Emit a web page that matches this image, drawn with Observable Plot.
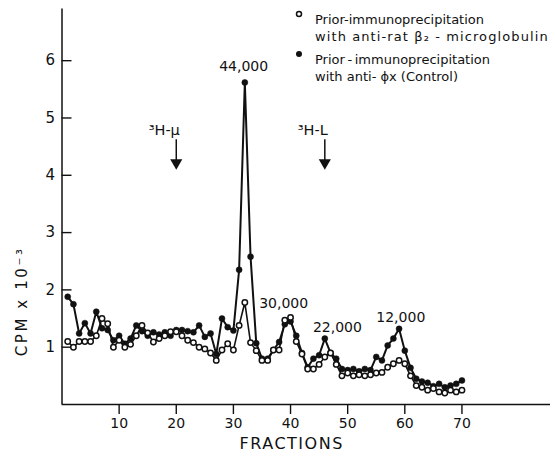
<!DOCTYPE html>
<html><head><meta charset="utf-8">
<script src="https://cdn.jsdelivr.net/npm/d3@7"></script>
<script src="https://cdn.jsdelivr.net/npm/@observablehq/plot@0.6"></script>
<style>
html,body{margin:0;padding:0;background:#fff;}
#chart{width:555px;height:458px;}
svg text{font-family:"DejaVu Sans",sans-serif;}
</style></head><body><div id="chart"></div>
<script>
// Fractions 1..70
const fractions = d3.range(1, 71);
// open circles: prior-immunoprecipitation with anti-rat beta2-microglobulin
const antiB2 = [1.10,1.00,1.10,1.10,1.10,1.20,1.50,1.41,1.00,1.12,
                1.00,1.05,1.20,1.38,1.25,1.09,1.15,1.20,1.27,1.27,
                1.20,1.12,1.08,1.00,0.97,0.90,0.77,0.95,1.06,0.95,
                1.38,1.78,1.08,0.94,0.77,0.77,0.95,0.95,1.47,1.52,
                1.10,0.88,0.62,0.62,0.70,0.83,0.90,0.70,0.50,0.55,
                0.50,0.52,0.50,0.52,0.55,0.56,0.65,0.71,0.77,0.71,
                0.50,0.33,0.30,0.25,0.28,0.22,0.20,0.25,0.22,0.25];
// filled circles: prior-immunoprecipitation with anti-phi-x (control)
const control = [1.88,1.75,1.24,1.42,1.24,1.62,1.33,1.30,1.12,1.20,
                 1.06,1.15,1.38,1.28,1.20,1.26,1.22,1.26,1.20,1.30,
                 1.30,1.28,1.26,1.38,1.18,1.24,0.88,1.50,1.35,1.29,
                 2.35,5.62,2.58,1.07,0.80,0.80,0.95,1.09,1.40,1.45,
                 1.20,0.90,0.65,0.80,0.86,1.15,0.90,0.80,0.62,0.60,
                 0.62,0.58,0.62,0.60,0.83,0.77,1.03,1.15,1.32,0.94,
                 0.64,0.45,0.40,0.38,0.32,0.36,0.30,0.33,0.36,0.42];
const xTicks = [10, 20, 30, 40, 50, 60, 70];
const yTicks = [1, 2, 3, 4, 5, 6];
// molecular weight labels
const mwLabels = ["44,000", "30,000", "22,000", "12,000"];
const mwFraction = [31.8, 38.8, 48.2, 59.3];
const mwValue = [5.9, 1.76, 1.34, 1.52];
// marker arrows
const markerLabels = ["³H-μ", "³H-L"];
const markerFraction = [20, 46];
const legendLines = ["Prior-immunoprecipitation", "with anti-rat β₂ - microglobulin",
                     "Prior\u2009-\u2009immunoprecipitation", "with anti- ϕx (Control)"];
const yLabel = "CPM x 10⁻³";
const xLabel = "FRACTIONS";

const openData = fractions.map((f, i) => ({f, v: antiB2[i]}));
const fillData = fractions.map((f, i) => ({f, v: control[i]}));
const mw = mwLabels.map((t, i) => ({t, f: mwFraction[i], v: mwValue[i]}));
const mk = markerLabels.map((t, i) => ({t, f: markerFraction[i]}));

const FONT = '"DejaVu Sans", sans-serif';
const chart = Plot.plot({
  width: 555, height: 458,
  marginLeft: 61.5, marginRight: 5, marginTop: 8.6, marginBottom: 54,
  style: {fontFamily: FONT, color: "#111", background: "#fff"},
  x: {domain: [0, 85.5], axis: null},
  y: {domain: [0, 6.9], axis: null},
  marks: [
    Plot.ruleX([0], {stroke: "#111", strokeWidth: 1.5}),
    Plot.ruleY([0], {stroke: "#111", strokeWidth: 1.5}),
    Plot.axisX({ticks: xTicks, label: null, tickSize: 10, tickPadding: 4, fontSize: 14, stroke: "#111", strokeWidth: 1.4, color: "#111"}),
    Plot.axisY({ticks: yTicks, label: null, tickFormat: "d", tickSize: 0, tickPadding: 7, fontSize: 15, color: "#111"}),
    Plot.ruleY(yTicks, {x1: 0, x2: 1.75, stroke: "#111", strokeWidth: 1.4}),
    Plot.text([yLabel], {x: 0, y: 1.8, rotate: -90, dx: -40, fontSize: 15, fill: "#111"}),
    Plot.text([xLabel], {x: 40.2, y: 0, dy: 39, fontSize: 16, fill: "#111"}),
    // series
    Plot.line(fillData, {x: "f", y: "v", stroke: "#111", strokeWidth: 2}),
    Plot.line(openData, {x: "f", y: "v", stroke: "#111", strokeWidth: 1.6}),
    Plot.dot(fillData, {x: "f", y: "v", r: 3, fill: "#111", stroke: "#111", strokeWidth: 0.5}),
    Plot.dot(openData, {x: "f", y: "v", r: 2.7, fill: "#fff", stroke: "#111", strokeWidth: 1.5}),
    // molecular weight labels
    Plot.text(mw, {x: "f", y: "v", text: "t", fontSize: 14, fill: "#111"}),
    // marker arrows
    Plot.ruleX(mk, {x: "f", y1: 4.62, y2: 4.25, stroke: "#111", strokeWidth: 1.5}),
    Plot.dot(mk, {x: "f", y: 4.22, symbol: "triangle", r: 4.5, rotate: 180, fill: "#111", stroke: "none"}),
    Plot.text(mk, {x: "f", y: 4.78, text: "t", dx: -12, fontSize: 14.5, fill: "#111"}),
    // legend
    Plot.dot([0], {frameAnchor: "top-left", dx: 237, dy: 5, r: 2.5, fill: "#fff", stroke: "#111", strokeWidth: 1.5}),
    Plot.dot([0], {frameAnchor: "top-left", dx: 237, dy: 45, r: 3, fill: "#111"}),
    Plot.text([legendLines[0]], {frameAnchor: "top-left", dx: 253, dy: 6, textAnchor: "start", fontSize: 13, fill: "#111"}),
    Plot.text([legendLines[1]], {frameAnchor: "top-left", dx: 253, dy: 23, textAnchor: "start", fontSize: 13, fill: "#111"}),
    Plot.text([legendLines[2]], {frameAnchor: "top-left", dx: 253, dy: 46, textAnchor: "start", fontSize: 13, fill: "#111"}),
    Plot.text([legendLines[3]], {frameAnchor: "top-left", dx: 253, dy: 63, textAnchor: "start", fontSize: 13, fill: "#111"})
  ]
});
const spacing = new Map([[yLabel, "2.6px"], [xLabel, "1.5px"], [legendLines[1], "1.1px"]]);
d3.select(chart).selectAll("text").each(function () {
  const s = spacing.get(this.textContent);
  if (s) this.style.letterSpacing = s;
});
document.getElementById("chart").appendChild(chart);
</script>
</body></html>
